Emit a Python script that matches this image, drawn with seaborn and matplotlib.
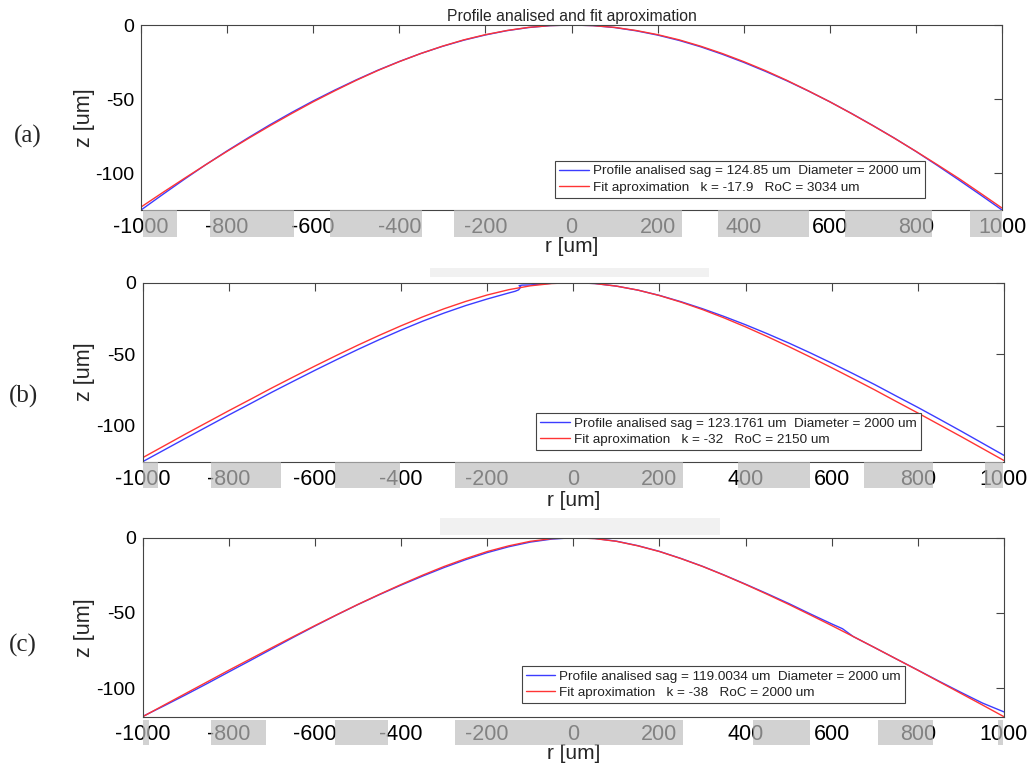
import matplotlib
matplotlib.use("Agg")
import matplotlib.pyplot as plt
from matplotlib.patches import Rectangle
import seaborn as sns

# ---------------- data ----------------
R_GRID = [-1000, -950, -900, -850, -800, -750, -700, -650, -600, -550, -500,
          -450, -400, -350, -300, -250, -200, -150, -100, -50, 0,
          50, 100, 150, 200, 250, 300, 350, 400, 450, 500,
          550, 600, 650, 700, 750, 800, 850, 900, 950, 1000]

# panel (a)
A_PROFILE_Z = [-124.8, -114.4, -104.2, -94.3, -84.9, -75.9, -67.2, -59.0, -51.2, -43.9, -37.0,
               -30.5, -24.6, -19.2, -14.4, -10.2, -6.7, -3.8, -1.7, -0.4, 0.0,
               -0.4, -1.7, -3.9, -6.8, -10.4, -14.7, -19.7, -25.2, -31.2, -37.6,
               -44.5, -51.8, -59.6, -67.8, -76.3, -85.3, -94.8, -104.6, -114.6, -124.8]
A_FIT_Z = [-122.8, -113.1, -103.6, -94.3, -85.2, -76.4, -67.9, -59.7, -51.8, -44.4, -37.3,
           -30.7, -24.7, -19.2, -14.3, -10.0, -6.5, -3.7, -1.6, -0.4, 0.0,
           -0.4, -1.6, -3.7, -6.5, -10.0, -14.3, -19.2, -24.7, -30.7, -37.3,
           -44.4, -51.8, -59.7, -67.9, -76.4, -85.2, -94.3, -103.6, -113.5, -123.5]

# panel (b)
B_PROFILE_R = [-1000, -950, -900, -850, -800, -750, -700, -650, -600, -550, -500,
               -450, -400, -350, -300, -250, -200, -150,
               -135, -127, -122, -126, -119, -100, -50, 0,
               50, 100, 150, 200, 250, 300, 350, 400, 450, 500,
               550, 600, 650, 700, 750, 800, 850, 900, 950, 1000]
B_PROFILE_Z = [-125.0, -116.8, -108.6, -100.5, -92.4, -84.5, -76.5, -68.8, -61.2, -53.8, -46.6,
               -39.7, -33.1, -26.9, -21.2, -16.0, -11.4, -7.2,
               -6.0, -5.0, -3.0, -2.1, -1.7, -1.6, -0.4, 0.0,
               -0.6, -2.4, -5.2, -8.9, -13.3, -18.2, -23.6, -29.4, -35.6, -42.1,
               -49.0, -56.2, -63.6, -71.2, -79.2, -87.1, -95.3, -103.6, -112.1, -120.6]
B_FIT_Z = [-122.2, -113.9, -105.6, -97.5, -89.4, -81.5, -73.5, -65.8, -58.2, -50.8, -43.6,
           -36.7, -30.1, -23.9, -18.2, -13.1, -8.6, -4.9, -2.2, -0.6, 0.0,
           -0.6, -2.4, -5.2, -9.0, -13.6, -18.8, -24.6, -30.9, -37.6, -44.6,
           -51.9, -59.4, -67.1, -74.9, -83.0, -91.0, -99.2, -107.4, -115.8, -124.2]

# panel (c)
C_PROFILE_R = [-1000, -950, -900, -850, -800, -750, -700, -650, -600, -550, -500,
               -450, -400, -350, -300, -250, -200, -150, -100, -50, 0,
               50, 100, 150, 200, 250, 300, 350, 400, 450, 500, 550, 600,
               625, 635, 650, 700, 750, 800, 850, 900, 950, 1000]
C_PROFILE_Z = [-118.8, -111.7, -104.4, -96.9, -89.2, -81.6, -73.9, -66.2, -58.7, -51.4, -44.4,
               -37.8, -31.5, -25.5, -19.8, -14.6, -9.9, -6.0, -2.9, -0.9, 0.0,
               -0.5, -2.3, -5.3, -9.1, -13.8, -19.0, -24.8, -30.9, -37.2, -43.7, -50.6, -57.3,
               -60.5, -62.6, -65.7, -73.1, -80.6, -88.0, -95.5, -102.8, -109.9, -115.8]
C_FIT_Z = [-119.0, -111.2, -103.5, -95.8, -88.1, -80.6, -73.1, -65.7, -58.4, -51.3, -44.3,
           -37.6, -31.1, -24.9, -19.1, -13.9, -9.2, -5.4, -2.4, -0.6, 0.0,
           -0.6, -2.4, -5.4, -9.2, -13.9, -19.1, -24.9, -31.1, -37.6, -44.3,
           -51.3, -58.4, -65.7, -73.1, -80.6, -88.1, -95.8, -103.5, -111.2, -119.0]

PROFILE_LABELS = ["Profile analised sag = 124.85 um  Diameter = 2000 um",
                  "Profile analised sag = 123.1761 um  Diameter = 2000 um",
                  "Profile analised sag = 119.0034 um  Diameter = 2000 um"]
FIT_LABELS = ["Fit aproximation   k = -17.9   RoC = 3034 um",
              "Fit aproximation   k = -32   RoC = 2150 um",
              "Fit aproximation   k = -38   RoC = 2000 um"]
PANEL_TAGS = ["(a)", "(b)", "(c)"]
X_TICKS = [-1000, -800, -600, -400, -200, 0, 200, 400, 600, 800, 1000]
Y_TICKS = [-100, -50, 0]
TITLE = "Profile analised and fit aproximation"
X_LABEL = "r [um]"
Y_LABEL = "z [um]"

# ---------------- style / layout ----------------
sns.set_style("white")
plt.rcParams["font.family"] = ["Liberation Sans", "DejaVu Sans"]
plt.rcParams["axes.unicode_minus"] = False

BLUE = "#3c3cff"
RED = "#ff3434"
W, H = 1031, 765

fig = plt.figure(figsize=(W / 100, H / 100), dpi=100)
fig.patch.set_facecolor("white")

AX_RECTS = [(0.1368, 0.7255, 0.8351, 0.2418),
            (0.1384, 0.3965, 0.8354, 0.2340),
            (0.1384, 0.0631, 0.8354, 0.2340)]
LEG_ANCHORS = [(0.481, 0.065), (0.4567, 0.065), (0.440, 0.0765)]
YLABEL_X = [-0.0660, -0.0680, -0.0680]
XLABEL_Y = [-0.198, -0.218, -0.205]
TAG_POS = [(28, 136), (23, 396), (23, 645)]

profiles = [(R_GRID, A_PROFILE_Z, A_FIT_Z),
            (B_PROFILE_R, B_PROFILE_Z, B_FIT_Z),
            (C_PROFILE_R, C_PROFILE_Z, C_FIT_Z)]

for i, (pr, pz, fz) in enumerate(profiles):
    ax = fig.add_axes(AX_RECTS[i])
    sns.lineplot(x=pr, y=pz, ax=ax, color=BLUE, lw=1.0, sort=False,
                 estimator=None, label=PROFILE_LABELS[i])
    sns.lineplot(x=R_GRID, y=fz, ax=ax, color=RED, lw=1.0, sort=False,
                 estimator=None, label=FIT_LABELS[i])
    ax.set_xlim(X_TICKS[0], X_TICKS[-1])
    ax.set_ylim(min(min(pz), min(fz)), 0)
    ax.set_xticks(X_TICKS)
    ax.set_yticks(Y_TICKS)
    ax.tick_params(direction="in", length=6, width=0.8, top=True, right=True,
                   colors="#444444", labelcolor="black")
    ax.tick_params(axis="y", pad=5, labelsize=14)
    ax.tick_params(axis="x", pad=5, labelsize=15.5)
    for s in ax.spines.values():
        s.set_color("#444444")
        s.set_linewidth(0.8)
    ax.set_xlabel(X_LABEL, fontsize=15, va="center")
    ax.xaxis.set_label_coords(0.5, XLABEL_Y[i])
    ax.set_ylabel(Y_LABEL, fontsize=15.5, va="center")
    ax.yaxis.set_label_coords(YLABEL_X[i], 0.5)
    leg = ax.legend(loc="lower left", bbox_to_anchor=LEG_ANCHORS[i], frameon=True,
                    fancybox=False, edgecolor="#444444", framealpha=1, fontsize=9.7,
                    handlelength=2.2, handletextpad=0.3, borderpad=0.3,
                    labelspacing=0.3, borderaxespad=0)
    leg.get_frame().set_linewidth(0.8)
    for t in leg.get_texts():
        t.set_color("#222222")
    if i == 0:
        ax.set_title(TITLE, fontsize=11.3, pad=3)
    fig.text(TAG_POS[i][0] / W, 1 - TAG_POS[i][1] / H, PANEL_TAGS[i],
             family=["Liberation Serif", "DejaVu Serif"], fontsize=18,
             ha="center", va="center")

# ---------------- scan artefacts: grey overlays on tick labels ----------------
OVERLAY_BANDS = [
    (210, 237, [(142.7, 177.3), (210, 294), (330, 421.7), (454, 681.7),
                (718.3, 809.3), (845, 931.7), (970, 1001.7)]),
    (462.3, 488.3, [(142.7, 157.7), (211, 281), (335, 400), (455, 683.3),
                    (737.7, 810), (864.3, 932.7), (985, 1003.3)]),
    (720, 745, [(142.7, 149), (211, 265.7), (335, 388.3), (455, 683.3),
                (752.7, 810), (878.3, 932.7), (998.3, 1003.3)]),
]
for y0, y1, spans in OVERLAY_BANDS:
    for x0, x1 in spans:
        fig.add_artist(Rectangle((x0 / W, 1 - y1 / H), (x1 - x0) / W, (y1 - y0) / H,
                                 transform=fig.transFigure, facecolor="#bebebe",
                                 edgecolor="none", alpha=0.69, zorder=10))
LIGHT_BANDS = [(430, 709, 268, 277), (440, 720, 518, 535)]
for x0, x1, y0, y1 in LIGHT_BANDS:
    fig.add_artist(Rectangle((x0 / W, 1 - y1 / H), (x1 - x0) / W, (y1 - y0) / H,
                             transform=fig.transFigure, facecolor="#f1f1f1",
                             edgecolor="none", zorder=-1))

fig.savefig("out.png", dpi=100)
